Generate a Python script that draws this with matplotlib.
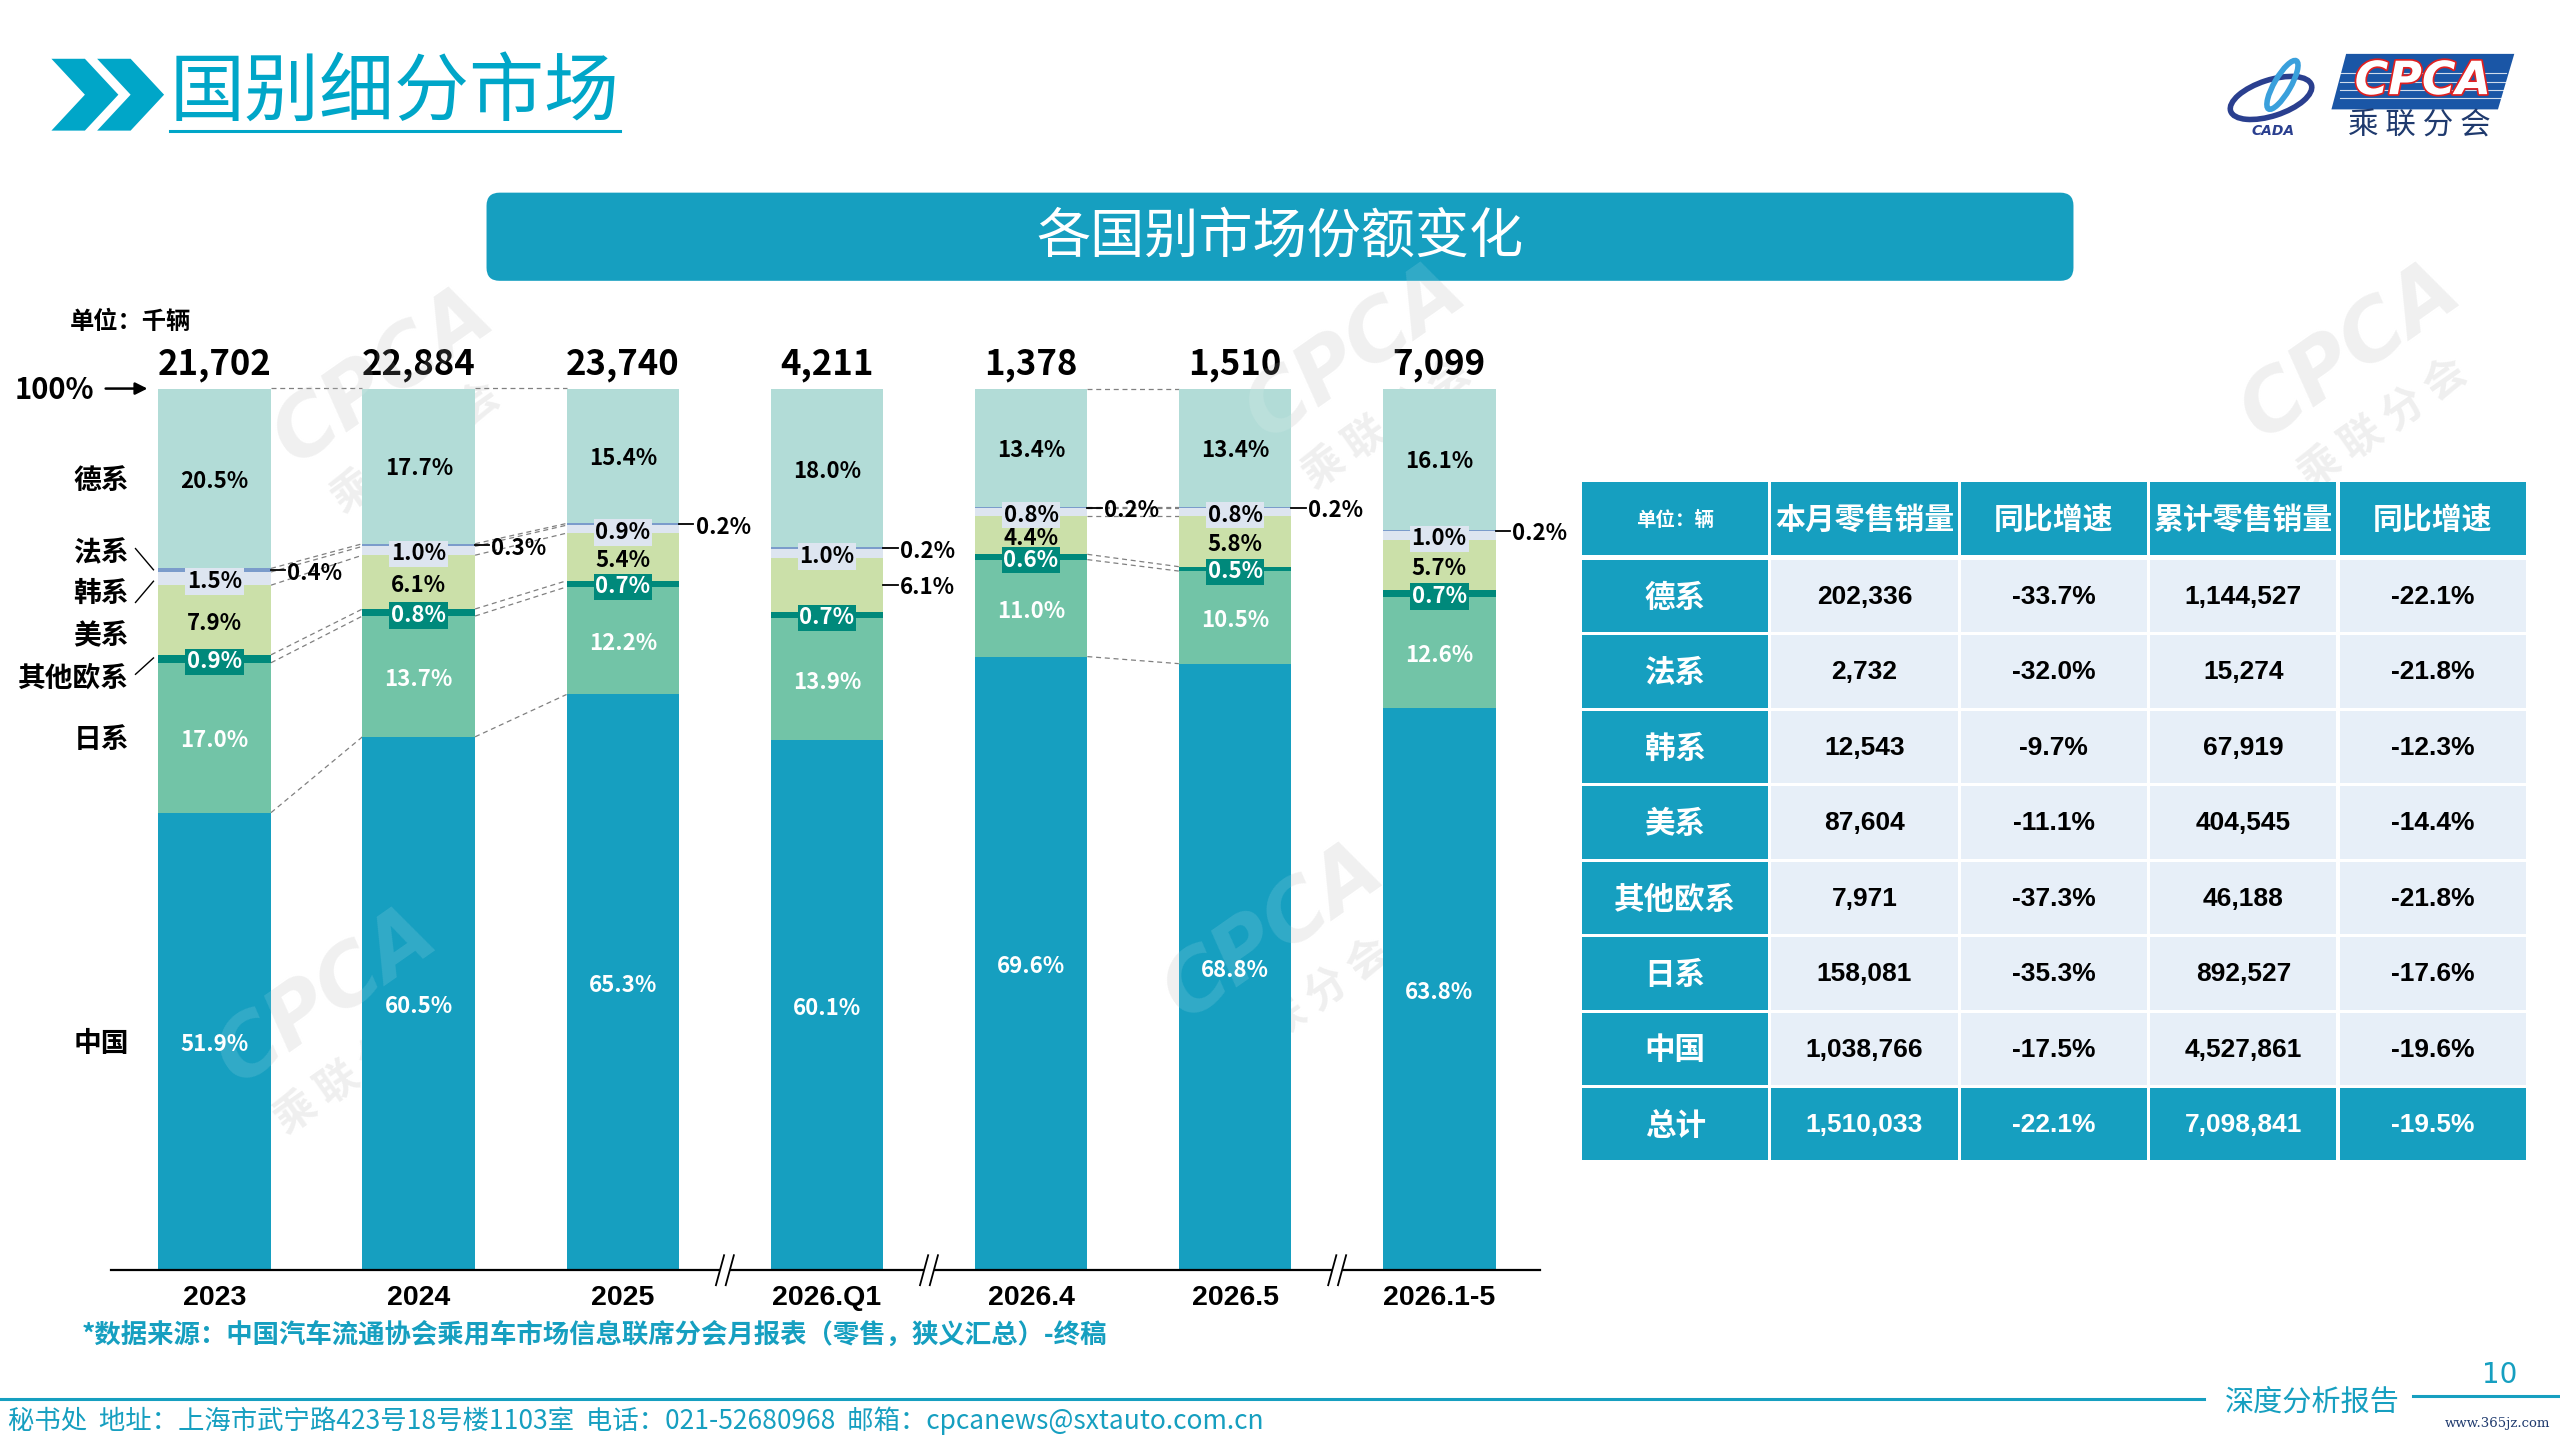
import matplotlib
matplotlib.use('Agg')
import matplotlib.pyplot as plt
from matplotlib.patches import Rectangle, FancyBboxPatch, Polygon, Ellipse
import matplotlib.patheffects as pe

# ---------------- data ----------------
categories = ['2023', '2024', '2025', '2026.Q1', '2026.4', '2026.5', '2026.1-5']
totals_k = [21702, 22884, 23740, 4211, 1378, 1510, 7099]
series_names = ['中国', '日系', '其他欧系', '美系', '韩系', '法系', '德系']
china = [51.9, 60.5, 65.3, 60.1, 69.6, 68.8, 63.8]
japan = [17.0, 13.7, 12.2, 13.9, 11.0, 10.5, 12.6]
other_eu = [0.9, 0.8, 0.7, 0.7, 0.6, 0.5, 0.7]
usa = [7.9, 6.1, 5.4, 6.1, 4.4, 5.8, 5.7]
korea = [1.5, 1.0, 0.9, 1.0, 0.8, 0.8, 1.0]
france = [0.4, 0.3, 0.2, 0.2, 0.2, 0.2, 0.2]
germany = [20.5, 17.7, 15.4, 18.0, 13.4, 13.4, 16.1]
usa_outside = [False, False, False, True, False, False, False]
break_after = [2, 3, 5]
connected_pairs = [(0, 1), (1, 2), (4, 5)]

table_header = ['单位：辆', '本月零售销量', '同比增速', '累计零售销量', '同比增速']
table_rows = ['德系', '法系', '韩系', '美系', '其他欧系', '日系', '中国', '总计']
month_sales = [202336, 2732, 12543, 87604, 7971, 158081, 1038766, 1510033]
month_yoy = [-33.7, -32.0, -9.7, -11.1, -37.3, -35.3, -17.5, -22.1]
cum_sales = [1144527, 15274, 67919, 404545, 46188, 892527, 4527861, 7098841]
cum_yoy = [-22.1, -21.8, -12.3, -14.4, -21.8, -17.6, -19.6, -19.5]

# ---------------- style ----------------
NUMF = 'Liberation Sans'
CJK = 'Noto Sans CJK SC'
plt.rcParams['font.family'] = [CJK, 'DejaVu Sans']

C_CN = '#169FC0'
C_JP = '#72C4A7'
C_OEU = '#00897B'
C_US = '#CBE0A9'
C_KR = '#DDE5F0'
C_FR = '#7B9CCB'
C_DE = '#B2DCD7'
colors = [C_CN, C_JP, C_OEU, C_US, C_KR, C_FR, C_DE]
TEAL = '#169FC0'
TITLE_C = '#00A6C8'

W, H = 1568.0, 882.0
fig = plt.figure(figsize=(25.6, 14.4), dpi=100)
bg = fig.add_axes([0, 0, 1, 1], zorder=0)
bg.set_xlim(0, W)
bg.set_ylim(H, 0)
bg.axis('off')

# ---------------- watermarks (behind) ----------------
wm_pos = [(235, 230), (830, 215), (1440, 215), (200, 610), (780, 570)]
for (x, y) in wm_pos:
    bg.text(x, y, 'CPCA', fontsize=60, fontweight='bold', style='italic', color='#EFEFEF',
            rotation=35, ha='center', va='center', family='DejaVu Sans', zorder=0.5)
    bg.text(x + 20, y + 45, '乘 联 分 会', fontsize=30, fontweight='bold', color='#EFEFEF',
            rotation=35, ha='center', va='center', zorder=0.5)

# ---------------- header ----------------
for dx in (0, 28):
    bg.add_patch(Polygon([(31.5 + dx, 36), (52 + dx, 36), (72.5 + dx, 58), (52 + dx, 80),
                          (31.5 + dx, 80), (52 + dx, 58)], closed=True, fc=TITLE_C, ec='none'))
bg.text(104, 57, '国别细分市场', fontsize=54, color=TITLE_C, ha='left', va='center', fontweight='light')
bg.plot([104, 380], [80, 80], color=TITLE_C, lw=2.2)

# logo
bg.add_patch(Polygon([(1437, 33), (1540, 33), (1530, 67), (1428, 67)], closed=True, fc='#1A56A6', ec='none'))
for yy in (45, 50, 55, 60):
    bg.plot([1433, 1535], [yy, yy], color='white', lw=0.8, alpha=0.8)
bg.text(1484, 50, 'CPCA', fontsize=33, fontweight='bold', style='italic', color='white',
        ha='center', va='center', family='DejaVu Sans',
        path_effects=[pe.withStroke(linewidth=2.5, foreground='#E02020')])
bg.text(1482, 77, '乘 联 分 会', fontsize=22, color='#1F3A6E', ha='center', va='center')
bg.add_patch(Ellipse((1391, 60), 52, 22, angle=-18, fill=False, ec='#2A3F8F', lw=4))
bg.add_patch(Ellipse((1398, 52), 10, 34, angle=30, fill=False, ec='#3AA0DC', lw=4))
bg.text(1392, 80, 'CADA', fontsize=10, fontweight='bold', style='italic', color='#2A3F8F',
        ha='center', va='center', family='DejaVu Sans')

# banner
bg.add_patch(FancyBboxPatch((298, 118), 972, 54, boxstyle='round,pad=0,rounding_size=8',
                            fc=TEAL, ec='none'))
bg.text(784, 145, '各国别市场份额变化', fontsize=39, color='white', ha='center', va='center')

# ---------------- bar chart ----------------
ax = fig.add_axes([68 / W, 1 - 778 / H, (943 - 68) / W, (778 - 238) / H], zorder=2)
ax.set_xlim(-0.508, 6.492)
ax.set_ylim(0, 100)
ax.patch.set_alpha(0)
for s in ('top', 'right', 'left'):
    ax.spines[s].set_visible(False)
ax.spines['bottom'].set_linewidth(1.6)
ax.spines['bottom'].set_color('black')
ax.set_xticks([])
ax.set_yticks([])

series = [china, japan, other_eu, usa, korea, france, germany]
n = len(categories)
xs = list(range(n))
bw = 0.552
cums = []
bottoms = [0.0] * n
for vals, col in zip(series, colors):
    ax.bar(xs, vals, bottom=bottoms, width=bw, color=col, edgecolor='none', zorder=2)
    bottoms = [b + v for b, v in zip(bottoms, vals)]
    cums.append(list(bottoms))

# connectors
dash = (0, (4, 3))
for i, j in connected_pairs:
    for k in range(len(series)):
        ax.plot([xs[i] + bw / 2, xs[j] - bw / 2], [cums[k][i], cums[k][j]], color='#808080',
                lw=0.9, linestyle=dash, zorder=1, clip_on=False)

LFS = 16
OFF = -0.35  # small optical offset for CJK font centering

def mid(k, i):
    lo = cums[k - 1][i] if k > 0 else 0.0
    return (lo + cums[k][i]) / 2

def outside(i, y, txt):
    ax.plot([xs[i] + bw / 2, xs[i] + bw / 2 + 0.07], [y, y], color='black', lw=1.3,
            zorder=4, clip_on=False)
    ax.text(xs[i] + bw / 2 + 0.08, y + OFF, txt, fontsize=LFS, fontweight='bold', color='black',
            ha='left', va='center', zorder=4, clip_on=False)

for i in xs:
    ax.text(xs[i], mid(0, i) + OFF, f'{china[i]:.1f}%', fontsize=LFS, fontweight='bold', color='white',
            ha='center', va='center', zorder=4)
    ax.text(xs[i], mid(1, i) + OFF, f'{japan[i]:.1f}%', fontsize=LFS, fontweight='bold', color='white',
            ha='center', va='center', zorder=4)
    ax.text(xs[i], mid(2, i) + OFF, f'{other_eu[i]:.1f}%', fontsize=LFS, fontweight='bold', color='white',
            ha='center', va='center', zorder=5,
            bbox=dict(boxstyle='square,pad=0.08', fc=C_OEU, ec='none'))
    if usa_outside[i]:
        outside(i, mid(3, i), f'{usa[i]:.1f}%')
    else:
        ax.text(xs[i], mid(3, i) + OFF, f'{usa[i]:.1f}%', fontsize=LFS, fontweight='bold', color='black',
                ha='center', va='center', zorder=4)
    ax.text(xs[i], mid(4, i) + OFF, f'{korea[i]:.1f}%', fontsize=LFS, fontweight='bold', color='black',
            ha='center', va='center', zorder=5,
            bbox=dict(boxstyle='square,pad=0.08', fc=C_KR, ec='none'))
    outside(i, mid(5, i), f'{france[i]:.1f}%')
    ax.text(xs[i], mid(6, i) + OFF, f'{germany[i]:.1f}%', fontsize=LFS, fontweight='bold', color='black',
            ha='center', va='center', zorder=4)
    ax.text(xs[i], 102.7, f'{totals_k[i]:,}', fontsize=25, fontweight='bold', color='black',
            ha='center', va='center', zorder=4, clip_on=False)
    ax.text(xs[i], -3.2, categories[i], fontsize=20.5, fontweight='bold', color='black',
            family=NUMF, ha='center', va='center', zorder=4, clip_on=False)

# axis breaks
for b in break_after:
    bx = b + 0.5
    ax.add_patch(Rectangle((bx - 0.024, -0.6), 0.048, 1.2, fc='white', ec='none', zorder=3,
                           clip_on=False))
    for dx in (-0.024, 0.024):
        ax.plot([bx + dx - 0.02, bx + dx + 0.02], [-1.7, 1.7], color='black', lw=1.3,
                zorder=4, clip_on=False)

# left labels
bg.text(43, 197, '单位：千辆', fontsize=17.5, fontweight='bold', ha='left', va='center')
bg.text(33, 239, '100%', fontsize=21, fontweight='bold', ha='center', va='center')
bg.annotate('', xy=(92, 238), xytext=(63, 238),
            arrowprops=dict(arrowstyle='-|>', color='black', lw=1.8, mutation_scale=18))

def y2d(v):
    return 778 - v * 5.4

left_labels = [('德系', y2d(mid(6, 0)) + 1.5), ('法系', 339), ('韩系', 364), ('美系', 390),
               ('其他欧系', 416), ('日系', y2d(mid(1, 0)) + 1.5), ('中国', y2d(mid(0, 0)) + 1.5)]
for t, y in left_labels:
    bg.text(79, y, t, fontsize=20, fontweight='bold', ha='right', va='center')
bg.plot([83, 94], [336, 349], color='black', lw=1)
bg.plot([83, 94], [369, 356], color='black', lw=1)
bg.plot([83, 94], [413, 403], color='black', lw=1)

# source
bg.text(50, 818, '*数据来源：中国汽车流通协会乘用车市场信息联席分会月报表（零售，狭义汇总）-终稿',
        fontsize=19, fontweight='bold', color=TEAL, ha='left', va='center')

# ---------------- table ----------------
col_x = [969, 1085, 1201, 1317, 1433]
col_w = 114
hy, hh = 295, 45
ry0, rp, rh = 343, 46.2, 44.4
for c, t in enumerate(table_header):
    bg.add_patch(Rectangle((col_x[c], hy), col_w, hh, fc=TEAL, ec='none'))
    bg.text(col_x[c] + col_w / 2, hy + hh / 2 + 1, t, fontsize=14 if c == 0 else 21.5,
            fontweight='bold', color='white', ha='center', va='center')

def fmt_pct(v):
    return f'{v:.1f}%'

for r, name in enumerate(table_rows):
    y = ry0 + r * rp
    total = (r == len(table_rows) - 1)
    vals = [f'{month_sales[r]:,}', fmt_pct(month_yoy[r]), f'{cum_sales[r]:,}', fmt_pct(cum_yoy[r])]
    bg.add_patch(Rectangle((col_x[0], y), col_w, rh, fc=TEAL, ec='none'))
    bg.text(col_x[0] + col_w / 2, y + rh / 2 + 1, name, fontsize=22, fontweight='bold',
            color='white', ha='center', va='center')
    for c, v in enumerate(vals, start=1):
        bg.add_patch(Rectangle((col_x[c], y), col_w, rh, fc=TEAL if total else '#E7EFF8', ec='none'))
        bg.text(col_x[c] + col_w / 2, y + rh / 2 + 0.5, v, fontsize=19,
                fontweight='bold', family=NUMF, color='white' if total else 'black',
                ha='center', va='center')

# ---------------- footer ----------------
bg.plot([0, 1350], [857, 857], color=TEAL, lw=2.2)
bg.plot([1478, 1568], [855, 855], color=TEAL, lw=2.2)
bg.text(1416, 859, '深度分析报告', fontsize=21, color=TEAL, ha='center', va='center')
bg.text(1531, 842, '10', fontsize=20, color=TEAL, ha='center', va='center', family='DejaVu Sans')
bg.text(1530, 872, 'www.365jz.com', fontsize=9.5, color='#1F3A6E', ha='center', va='center',
        family='DejaVu Serif')
bg.text(5, 870, '秘书处  地址：上海市武宁路423号18号楼1103室  电话：021-52680968  邮箱：cpcanews@sxtauto.com.cn',
        fontsize=19, color=TEAL, ha='left', va='center')

# watermark highlight over bars
for (x, y) in wm_pos:
    fig.text(x / W, 1 - y / H, 'CPCA', fontsize=60, fontweight='bold', style='italic', color='white',
             alpha=0.12, rotation=35, ha='center', va='center', family='DejaVu Sans', zorder=10)

fig.savefig('out.png', dpi=100)
